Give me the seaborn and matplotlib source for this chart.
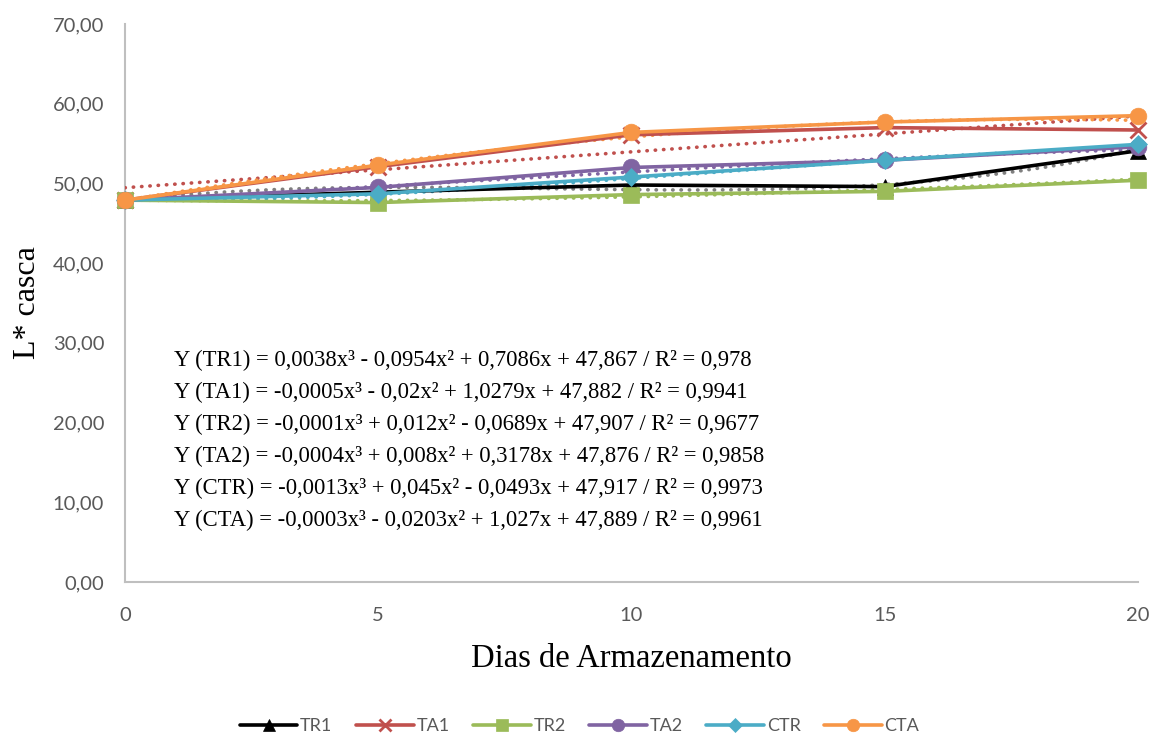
import numpy as np
import pandas as pd
import matplotlib
matplotlib.use("Agg")
import matplotlib.pyplot as plt
import seaborn as sns

# Storage days and L* (peel lightness) per treatment
dias = [0, 5, 10, 15, 20]
tr1 = [47.9, 48.9, 49.8, 49.6, 54.1]
ta1 = [47.9, 52.1, 56.1, 57.0, 56.7]
tr2 = [47.9, 47.6, 48.6, 49.0, 50.4]
ta2 = [47.9, 49.5, 52.0, 52.9, 54.6]
ctr = [47.9, 48.7, 50.8, 52.9, 54.9]
cta = [47.9, 52.3, 56.4, 57.7, 58.5]

tratamentos = ["TR1", "TA1", "TR2", "TA2", "CTR", "CTA"]
series = [tr1, ta1, tr2, ta2, ctr, cta]

# Cubic fit coefficients (a, b, c, d) for a*x^3 + b*x^2 + c*x + d, and R²
coefs = {
    "TR1": (0.0038, -0.0954, 0.7086, 47.867),
    "TA1": (-0.0005, -0.02, 1.0279, 47.882),
    "TR2": (-0.0001, 0.012, -0.0689, 47.907),
    "TA2": (-0.0004, 0.008, 0.3178, 47.876),
    "CTR": (-0.0013, 0.045, -0.0493, 47.917),
    "CTA": (-0.0003, -0.0203, 1.027, 47.889),
}
r2 = {"TR1": "0,978", "TA1": "0,9941", "TR2": "0,9677",
      "TA2": "0,9858", "CTR": "0,9973", "CTA": "0,9961"}

cores = {"TR1": "#000000", "TA1": "#C0504D", "TR2": "#9BBB59",
         "TA2": "#8064A2", "CTR": "#4BACC6", "CTA": "#F79646"}
cores_tend = {"TR1": "#808080", "TA1": "#C0504D", "TR2": "#9BBB59",
              "TA2": "#8064A2", "CTR": "#4BACC6", "CTA": "#F79646"}
marcadores = {"TR1": "^", "TA1": "x", "TR2": "s", "TA2": "o", "CTR": "D", "CTA": "o"}
tamanhos = {"TR1": 11, "TA1": 11, "TR2": 11, "TA2": 12, "CTR": 9, "CTA": 12}

df = pd.DataFrame({
    "dia": dias * len(tratamentos),
    "L": [v for s in series for v in s],
    "trat": [t for t in tratamentos for _ in dias],
})

sns.set_theme(style="white")
plt.rcParams["font.family"] = ["Lato", "DejaVu Sans"]

fig = plt.figure(figsize=(11.52, 7.38), dpi=100)
ax = fig.add_axes([0.1085, 0.2114, 0.8793, 0.7561])

# Dotted trend curves
xs = np.linspace(0, 20, 200)
for t, s in zip(tratamentos, series):
    if t == "TA1":
        p = np.polyfit(dias, s, 1)
        ys = np.polyval(p, xs)
    else:
        a, b, c, d = coefs[t]
        ys = a * xs**3 + b * xs**2 + c * xs + d
    ax.plot(xs, ys, color=cores_tend[t], lw=2.6, linestyle=(0, (0.1, 2.2)),
            dash_capstyle="round", zorder=3)

# Data lines with markers
for t in tratamentos:
    sub = df[df["trat"] == t]
    sns.lineplot(data=sub, x="dia", y="L", ax=ax, color=cores[t],
                 marker=marcadores[t], markersize=tamanhos[t],
                 markeredgecolor=cores[t], markeredgewidth=2 if t == "TA1" else 0.5,
                 linewidth=2.6, label=t, clip_on=False, zorder=4)

ax.set_xlim(0, 20)
ax.set_ylim(0, 70)
ax.set_xticks([0, 5, 10, 15, 20])
ax.set_yticks(np.arange(0, 71, 10))
ax.set_yticklabels([f"{v:.2f}".replace(".", ",") for v in np.arange(0, 71, 10)])
ax.tick_params(axis="both", colors="#595959", labelsize=14.5, length=0)
ax.tick_params(axis="y", pad=15)
ax.tick_params(axis="x", pad=18)
for lab in ax.get_xticklabels() + ax.get_yticklabels():
    lab.set_color("#595959")

for side in ["top", "right"]:
    ax.spines[side].set_visible(False)
for side in ["left", "bottom"]:
    ax.spines[side].set_color("#BFBFBF")
    ax.spines[side].set_linewidth(1.5)

ax.set_xlabel("Dias de Armazenamento", family="Liberation Serif", fontsize=23.5,
              color="black", labelpad=14)
ax.set_ylabel("L* casca", family="Liberation Serif", fontsize=23,
              color="black", labelpad=8)

# Fit equations
def fmt(v):
    return f"{abs(v):g}".replace(".", ",")

def eq(t):
    a, b, c, d = coefs[t]
    txt = f"Y ({t}) = {'-' if a < 0 else ''}{fmt(a)}x³"
    txt += f" {'-' if b < 0 else '+'} {fmt(b)}x²"
    txt += f" {'-' if c < 0 else '+'} {fmt(c)}x"
    txt += f" + {fmt(d)} / R² = {r2[t]}"
    return txt

for i, t in enumerate(tratamentos):
    ax.text(0.048, 0.397 - i * 0.0575, eq(t), transform=ax.transAxes,
            family="Liberation Serif", fontsize=16.3, color="black",
            va="center", ha="left")

handles, labels = ax.get_legend_handles_labels()
if ax.legend_:
    ax.legend_.remove()
leg = fig.legend(handles, labels, loc="center", bbox_to_anchor=(0.503, 0.016),
                 ncol=6, frameon=False, fontsize=13, handlelength=3.2,
                 columnspacing=1.3, handletextpad=0.15, markerscale=0.75)
for txt in leg.get_texts():
    txt.set_color("#595959")

fig.savefig("out.png", dpi=100)
